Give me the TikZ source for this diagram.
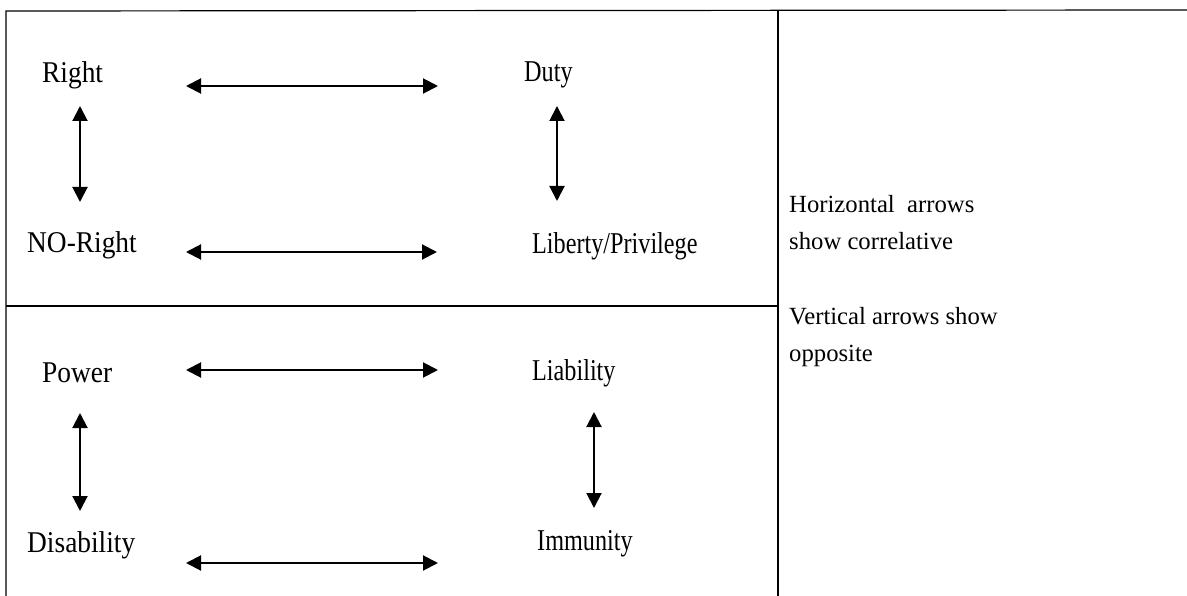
\documentclass[tikz,border=0pt]{standalone}
\usepackage{fontspec}
\usepackage{graphicx}
\setmainfont{Liberation Serif}
\usetikzlibrary{positioning, arrows.meta}

% stretched text, as in the scanned table
\newcommand{\tallA}[1]{\scalebox{1}[1.10]{\fontsize{27.4}{30}\selectfont #1}}
\newcommand{\tallB}[1]{\scalebox{1}[1.25]{\fontsize{24.2}{30}\selectfont #1}}

\begin{document}
\begin{tikzpicture}[
    % GLOBAL CFG
    x=1pt, y=-1pt,
    font=\fontsize{24.7}{37}\selectfont,
    >={Triangle[length=15pt, width=15pt]},
    % Styles
    term/.style={% For the eight legal terms
        inner sep=0pt,
        anchor=base west,
        },
    note/.style={% For the legend on the right
        inner sep=0pt,
        anchor=north west,
        align=left,
        },
    frame/.style={% For the table lines
        line width=1.2pt,
        },
    relation/.style={% Double arrows between terms
        <->,
        line width=2pt,
        },
    ]

    \useasboundingbox (0,0) rectangle (1187,596);

    % Draw the table
    \draw [frame] (6,596) -- (6,11) -- (1187,10);
    \draw [frame] (778,10) -- (778,596);
    \draw [frame] (6,306) -- (778,306);

    % Draw the terms, upper box
    \node [term] (right) at (42,83) {\tallA{Right}};
    \node [term] (duty) at (524,82) {\tallB{Duty}};
    \node [term] (noright) at (27,253) {\tallA{NO-Right}};
    \node [term] (liberty) at (532,254) {\tallB{Liberty/Privilege}};

    % Draw the terms, lower box
    \node [term] (power) at (42,382) {\tallA{Power}};
    \node [term] (liability) at (532,381) {\tallB{Liability}};
    \node [term] (disability) at (27,552) {\tallA{Disability}};
    \node [term] (immunity) at (537,550) {\tallB{Immunity}};

    % Draw the legend
    \node [note] (horiz) at (789,195) {Horizontal\ \ arrows\\show correlative};
    \node [note] (vert) at (789,307) {Vertical arrows show\\opposite};

    % Arrow ends
    \coordinate (a1) at (186,86);   \coordinate (b1) at (438,86);
    \coordinate (a2) at (186,252);  \coordinate (b2) at (437,252);
    \coordinate (a3) at (186,370);  \coordinate (b3) at (438,370);
    \coordinate (a4) at (186,563);  \coordinate (b4) at (438,563);
    \coordinate (c1) at (80,106);   \coordinate (d1) at (80,202);
    \coordinate (c2) at (557,106);  \coordinate (d2) at (557,201);
    \coordinate (c3) at (80,413);   \coordinate (d3) at (80,511);
    \coordinate (c4) at (594,412);  \coordinate (d4) at (594,508);

    % Correlatives
    \draw [relation] (a1) -- (b1);
    \draw [relation] (a2) -- (b2);
    \draw [relation] (a3) -- (b3);
    \draw [relation] (a4) -- (b4);

    % Opposites
    \draw [relation] (c1) -- (d1);
    \draw [relation] (c2) -- (d2);
    \draw [relation] (c3) -- (d3);
    \draw [relation] (c4) -- (d4);

\end{tikzpicture}
\end{document}
